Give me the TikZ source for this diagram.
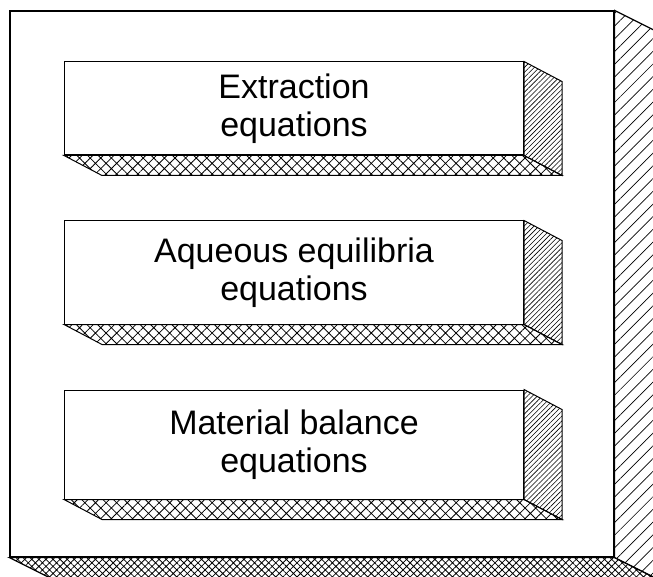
\documentclass[tikz,border=0pt]{standalone}
\usepackage{fontspec}
\setmainfont{Liberation Sans}
\usetikzlibrary{positioning,calc,patterns.meta}

\begin{document}
\begin{tikzpicture}[
    x=1pt, y=-1pt,
    node distance=65pt,
    face/.style={draw, fill=white, line width=1pt, inner sep=0pt},
    slab/.style={face, minimum width=459pt, align=center, font=\fontsize{34}{38}\selectfont},
    sideface/.style={draw, line width=1pt, pattern={Lines[angle=45,distance=3.5pt,line width=0.6pt]}},
    baseface/.style={draw, line width=1pt, pattern={Hatch[angle=45,distance=7.5pt,line width=0.8pt]}}
]
    \useasboundingbox (0,0) rectangle (653,577);
    \clip (0,0) rectangle (653,577);

    % Frame
    \node[face, line width=1.2pt, minimum width=604pt, minimum height=546pt] (frame) at (312,284) {};
    \draw[line width=1.2pt, pattern={Lines[angle=45,distance=9pt,line width=0.7pt]}]
        (frame.north east) -- ++(60,30) -- ($(frame.south east)+(60,30)$) -- (frame.south east) -- cycle;
    \draw[line width=1.2pt, pattern={Hatch[angle=45,distance=5pt,line width=0.8pt]}]
        (frame.south west) -- (frame.south east) -- ++(60,30) -- ($(frame.south west)+(60,30)$) -- cycle;

    % Slabs
    \node[slab, minimum height=93pt] (extraction) at (294,108.5) {Extraction\\equations};
    \node[slab, minimum height=103pt, below=of extraction] (aqueous) {Aqueous equilibria\\equations};
    \node[slab, minimum height=109pt, below=of aqueous] (material) {Material balance\\equations};

    \foreach \s in {extraction,aqueous,material} {
        \draw[sideface] (\s.north east) -- ++(38,20) -- ($(\s.south east)+(38,20)$) -- (\s.south east) -- cycle;
        \draw[baseface] (\s.south west) -- (\s.south east) -- ++(38,20) -- ($(\s.south west)+(38,20)$) -- cycle;
    }
\end{tikzpicture}
\end{document}
